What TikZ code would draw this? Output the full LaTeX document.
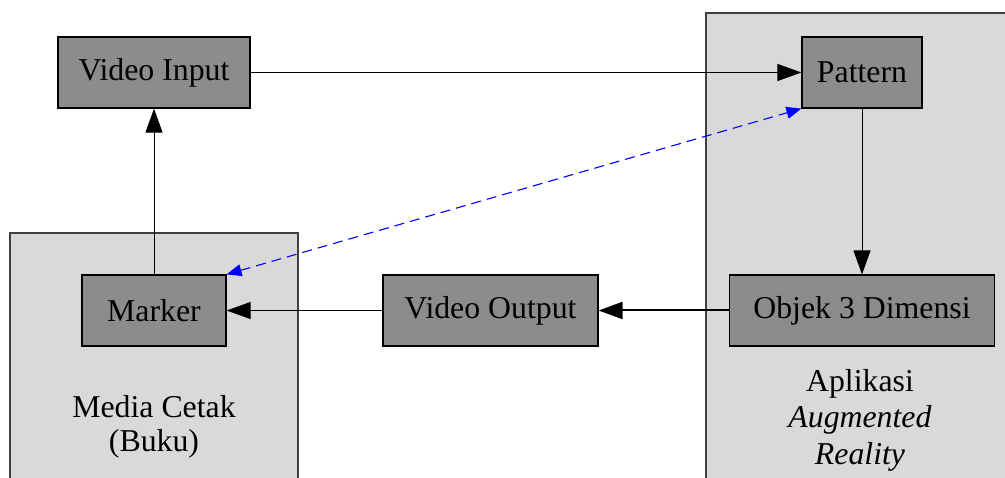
\documentclass[tikz,border=0pt]{standalone}
\usepackage{fontspec}
\setmainfont{Liberation Serif}
\usetikzlibrary{arrows.meta}
\definecolor{boxfill}{HTML}{8C8C8C}
\definecolor{panelfill}{HTML}{D9D9D9}
\definecolor{panelline}{HTML}{404040}
\begin{document}
\begin{tikzpicture}[x=1pt,y=-1pt,
  blk/.style={draw=black,line width=1.2pt,fill=boxfill,rectangle,inner sep=0pt,minimum height=71pt,font=\fontsize{31.8}{36}\selectfont},
  panel/.style={draw=panelline,line width=1.3pt,fill=panelfill},
  lbl/.style={align=center,font=\fontsize{31.8}{34}\selectfont,inner sep=0pt},
  conn/.style={line width=1pt,-{Triangle[length=24pt,width=17pt]}},
  blue/.style={draw=blue,line width=1.1pt,dash pattern=on 10pt off 6pt,{Triangle[length=15pt,width=12pt]}-{Triangle[length=15pt,width=12pt]}}]
\useasboundingbox (0,0) rectangle (1005,478);
\begin{scope}
\clip (0,0) rectangle (1005,478);
\draw[panel] (10,233) rectangle (298,495);
\draw[panel] (706,13) rectangle (1020,495);
\end{scope}
\node[blk,minimum width=192pt] (vin) at (154,72.5) {Video Input};
\node[blk,minimum width=120pt] (pat) at (862,72.5) {Pattern};
\node[blk,minimum width=265pt] (obj) at (862,310.5) {Objek 3 Dimensi};
\node[blk,minimum width=215pt] (vout) at (490.5,310.5) {Video Output};
\node[blk,minimum width=144pt] (mark) at (154,310.5) {Marker};
\node[lbl] (media) at (154,427) {Media Cetak\\(Buku)};
\node[lbl,font=\fontsize{31.8}{36.5}\selectfont] (apl) at (860,420) {Aplikasi\\\textit{Augmented}\\\textit{Reality}};
\draw[conn] (vin.east) -- (pat.west);
\draw[conn] (pat.south) -- (obj.north);
\draw[conn] (mark.north) -- (vin.south);
\draw[conn,line width=2pt] (obj.west) -- (vout.east);
\draw[conn] (vout.west) -- (mark.east);
\draw[blue] (mark.north east) -- (pat.south west);
\end{tikzpicture}
\end{document}
